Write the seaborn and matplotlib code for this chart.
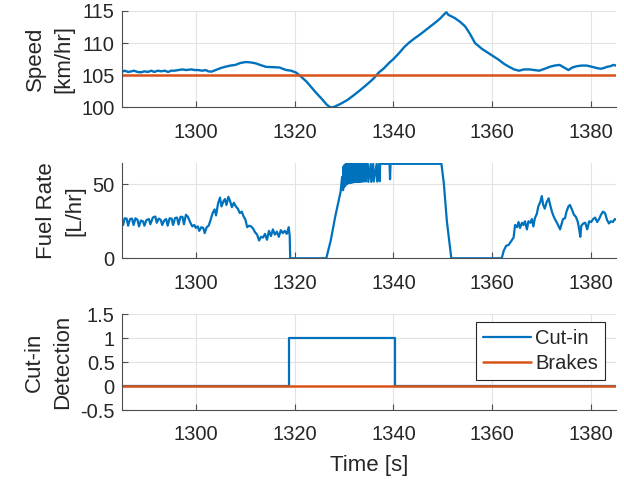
import numpy as np
import pandas as pd
import matplotlib
matplotlib.use("Agg")
import matplotlib.pyplot as plt
import seaborn as sns

# Speed trace [km/hr]
speed_t = [1285.0, 1285.6, 1286.3, 1287.0, 1287.5, 1288.2, 1288.9, 1289.6, 1290.3, 1291.0,
           1291.6, 1292.3, 1293.0, 1293.7, 1294.4, 1295.0, 1295.7, 1296.5, 1297.3, 1298.0,
           1299.1, 1299.8, 1300.5, 1301.3, 1302.0, 1302.5, 1303.2, 1304.0, 1305.0, 1305.9,
           1307.0, 1308.0, 1309.0, 1310.1, 1311.0, 1312.1, 1313.0, 1314.2, 1315.5, 1316.9,
           1317.6, 1318.3, 1319.3, 1320.3, 1321.4, 1322.4, 1323.4, 1324.4, 1325.5, 1326.5,
           1327.2, 1327.8, 1329.2, 1330.6, 1332.0, 1333.3, 1334.7, 1336.0, 1337.0, 1338.1,
           1339.1, 1340.1, 1341.2, 1342.2, 1343.2, 1344.2, 1345.3, 1346.3, 1347.3, 1348.3,
           1349.4, 1350.4, 1350.7, 1351.1, 1352.4, 1353.5, 1354.5, 1355.5, 1356.5, 1357.9,
           1359.3, 1360.3, 1361.3, 1362.3, 1363.4, 1364.4, 1365.4, 1366.4, 1367.5, 1368.5,
           1369.5, 1370.6, 1371.6, 1372.6, 1373.6, 1374.5, 1375.4, 1376.2, 1377.1, 1378.1,
           1379.1, 1380.2, 1381.2, 1381.9, 1382.5, 1383.2, 1383.9, 1384.5, 1385.0]
speed_v = [105.5, 105.7, 105.5, 105.6, 105.7, 105.5, 105.45, 105.6, 105.5, 105.7,
           105.5, 105.7, 105.6, 105.7, 105.5, 105.7, 105.7, 105.8, 105.9, 105.8,
           105.9, 105.8, 105.8, 105.7, 105.8, 105.6, 105.55, 105.8, 106.1, 106.3,
           106.5, 106.6, 106.9, 107.05, 107.0, 106.85, 106.6, 106.3, 106.25, 106.2,
           106.0, 105.8, 105.7, 105.4, 104.7, 104.0, 103.1, 102.2, 101.3, 100.4,
           100.0, 100.0, 100.5, 101.1, 101.9, 102.7, 103.6, 104.5, 105.4, 106.1,
           106.9, 107.6, 108.5, 109.4, 110.1, 110.7, 111.3, 111.9, 112.5, 113.1,
           113.8, 114.6, 114.8, 114.4, 113.9, 113.3, 112.6, 111.4, 110.0, 109.1,
           108.4, 107.9, 107.4, 106.8, 106.3, 105.9, 105.7, 105.9, 105.9, 105.8,
           105.7, 106.0, 106.3, 106.5, 106.6, 106.2, 105.8, 106.2, 106.4, 106.5,
           106.5, 106.3, 106.1, 106.0, 106.1, 106.3, 106.4, 106.6, 106.5]
speed_ref_t = [1285.0, 1385.0]
speed_ref_v = [105.0, 105.0]

# Fuel rate trace [L/hr]
fuel_t = [1285.0, 1285.3, 1285.6, 1286.0, 1286.3, 1286.7, 1287.1, 1287.4, 1287.8, 1288.2,
          1288.5, 1288.9, 1289.3, 1289.6, 1290.0, 1290.5, 1290.8, 1291.3, 1291.8, 1292.1,
          1292.5, 1292.9, 1293.2, 1293.6, 1294.0, 1294.3, 1294.7, 1295.1, 1295.4, 1295.8,
          1296.2, 1296.5, 1296.9, 1297.3, 1297.6, 1298.0, 1298.4, 1298.9, 1299.3, 1299.7,
          1300.0, 1300.4, 1300.7, 1301.1, 1301.5, 1301.8, 1302.2, 1302.6, 1303.0, 1303.4,
          1303.8, 1304.1, 1304.5, 1304.9, 1305.2, 1305.6, 1305.9, 1306.2, 1306.6, 1306.9,
          1307.3, 1307.7, 1308.1, 1308.5, 1308.9, 1309.3, 1309.7, 1310.0, 1310.4, 1310.8,
          1311.2, 1311.6, 1312.0, 1312.4, 1312.8, 1313.2, 1313.6, 1314.0, 1314.4, 1314.8,
          1315.2, 1315.6, 1316.0, 1316.4, 1316.8, 1317.2, 1317.6, 1318.0, 1318.4, 1318.8,
          1319.0, 1319.1, 1326.4, 1327.3, 1328.2, 1329.3, 1329.6,
          1329.8, 1329.9, 1330.0, 1330.1, 1330.2, 1330.3, 1330.4, 1330.5, 1330.6, 1330.7,
          1330.8, 1330.9, 1331.0, 1331.1, 1331.2, 1331.3, 1331.4, 1331.5, 1331.6, 1331.7,
          1331.8, 1331.9, 1332.0, 1332.1, 1332.2, 1332.3, 1332.4, 1332.5, 1332.6, 1332.7,
          1332.8, 1332.9, 1333.0, 1333.1, 1333.2, 1333.3, 1333.4, 1333.5, 1333.6, 1333.7,
          1333.8, 1333.9, 1334.0, 1334.1, 1334.2, 1334.3, 1334.4, 1334.5,
          1334.8, 1334.9, 1335.4, 1335.5, 1335.9, 1336.0, 1336.6, 1336.7,
          1337.1, 1337.2, 1337.3, 1339.2, 1339.3, 1339.4, 1349.7, 1350.2, 1350.8, 1351.7,
          1361.9, 1362.3, 1362.8, 1363.3, 1363.8, 1364.3, 1364.6, 1365.0, 1365.3, 1365.6,
          1366.0, 1366.3, 1366.6, 1367.0, 1367.3, 1367.7, 1368.0, 1368.3, 1368.6, 1369.0,
          1369.3, 1369.7, 1370.0, 1370.3, 1370.6, 1371.0, 1371.4, 1371.7, 1372.1, 1372.5,
          1372.9, 1373.3, 1373.7, 1374.0, 1374.3, 1374.7, 1375.0, 1375.4, 1375.7, 1376.1,
          1376.5, 1376.9, 1377.3, 1377.6, 1377.8, 1378.0, 1378.4, 1378.8, 1379.2, 1379.6,
          1380.0, 1380.4, 1380.8, 1381.2, 1381.6, 1382.0, 1382.4, 1382.8, 1383.2, 1383.6,
          1384.0, 1384.4, 1384.8, 1385.2]
fuel_v = [26.5, 22.5, 27.0, 26.8, 22.0, 26.5, 26.8, 22.5, 27.0, 26.0,
          21.5, 25.5, 25.0, 22.0, 25.8, 26.5, 23.0, 27.5, 28.2, 24.0,
          26.8, 26.0, 22.5, 25.5, 26.5, 22.0, 27.0, 26.8, 22.5, 27.2,
          27.5, 22.8, 28.0, 28.0, 23.0, 29.4, 28.0, 24.0, 21.5, 22.5,
          20.5, 21.5, 18.5, 21.0, 20.5, 17.0, 21.0, 22.0, 26.0, 30.5,
          33.0, 29.0, 37.0, 41.0, 35.0, 38.5, 40.0, 36.0, 41.5, 39.0,
          34.5, 37.5, 35.0, 33.5, 30.5, 31.5, 28.0, 26.5, 21.0, 22.0,
          21.5, 20.0, 17.5, 16.0, 12.0, 14.5, 14.0, 16.5, 12.5, 18.5,
          15.0, 19.5, 16.0, 18.0, 14.5, 19.0, 17.0, 18.5, 16.5, 21.0,
          15.0, 0.0, 0.0, 12.0, 28.0, 45.0, 55.0,
          46.0, 62.0, 48.0, 63.0, 49.0, 63.5, 49.8, 63.8, 50.3, 63.8,
          50.6, 63.8, 50.8, 63.8, 51.0, 63.8, 51.1, 63.8, 51.2, 63.8,
          51.3, 63.8, 51.4, 63.8, 51.5, 63.8, 51.5, 63.8, 51.6, 63.8,
          51.7, 63.8, 51.7, 63.8, 51.8, 63.8, 51.8, 63.8, 51.9, 63.8,
          51.9, 63.8, 52.0, 63.8, 52.0, 63.8, 52.0, 63.8,
          63.8, 51.6, 63.8, 51.6, 63.8, 51.8, 63.8, 51.8,
          63.8, 52.0, 63.8, 63.8, 53.4, 63.8, 63.8, 50.0, 25.0, 0.0,
          0.0, 5.0, 8.5, 9.0, 11.5, 14.0, 22.5, 21.0, 24.5, 20.5,
          24.0, 22.5, 25.0, 19.5, 25.0, 24.0, 26.5, 21.5, 27.0, 30.0,
          35.0, 38.0, 42.0, 36.0, 33.5, 38.0, 40.5, 36.0, 31.0, 27.5,
          25.0, 22.5, 19.5, 23.0, 26.5, 27.0, 31.5, 35.0, 36.0, 33.0,
          29.5, 28.0, 24.5, 19.0, 14.5, 22.0, 23.5, 24.0, 19.5, 25.0,
          24.5, 26.5, 27.5, 24.5, 26.5, 29.5, 31.5, 30.5, 26.0, 23.5,
          25.0, 24.5, 26.5, 26.0]

# Cut-in detection and brakes
cutin_t = [1285.0, 1318.8, 1318.8, 1340.3, 1340.3, 1385.0]
cutin_v = [0, 0, 1, 1, 0, 0]
brakes_t = [1285.0, 1385.0]
brakes_v = [0, 0]

x_ticks = [1300, 1320, 1340, 1360, 1380]

BLUE = '#0072BD'
ORANGE = '#D95319'
TXT = '#262626'

sns.set_theme(style="whitegrid")
plt.rcParams['font.family'] = ['Liberation Sans', 'DejaVu Sans']

fig = plt.figure(figsize=(6.24, 4.8), dpi=100)
left, width = 0.195, 0.792
ax1 = fig.add_axes([left, 0.7765, width, 0.2006])
ax2 = fig.add_axes([left, 0.4619, width, 0.1990])
ax3 = fig.add_axes([left, 0.1458, width, 0.2000])

sns.lineplot(x=speed_t, y=speed_v, ax=ax1, color=BLUE, linewidth=1.7, estimator=None, sort=False)
sns.lineplot(x=speed_ref_t, y=speed_ref_v, ax=ax1, color=ORANGE, linewidth=1.8, estimator=None, sort=False)
ax1.set_ylim(100, 115)
ax1.set_yticks([100, 105, 110, 115])
ax1.set_ylabel('Speed\n[km/hr]')

sns.lineplot(x=fuel_t, y=fuel_v, ax=ax2, color=BLUE, linewidth=1.6, estimator=None, sort=False)
ax2.set_ylim(0, 64.5)
ax2.set_yticks([0, 50])
ax2.set_ylabel('Fuel Rate\n[L/hr]')

sns.lineplot(x=cutin_t, y=cutin_v, ax=ax3, color=BLUE, linewidth=1.6, estimator=None, sort=False,
             label='Cut-in')
sns.lineplot(x=brakes_t, y=brakes_v, ax=ax3, color=ORANGE, linewidth=1.8, estimator=None, sort=False,
             label='Brakes')
ax3.set_ylim(-0.5, 1.5)
ax3.set_yticks([-0.5, 0, 0.5, 1, 1.5])
ax3.set_yticklabels(['-0.5', '0', '0.5', '1', '1.5'])
ax3.set_ylabel('Cut-in\nDetection')
ax3.set_xlabel('Time [s]', fontsize=16, color=TXT, labelpad=8)
leg = ax3.legend(loc='upper right', bbox_to_anchor=(0.978, 0.92), fontsize=14.5, frameon=True,
                 fancybox=False, framealpha=1, edgecolor=TXT, borderpad=0.35,
                 handlelength=2.4, handletextpad=0.2, labelspacing=0.3, borderaxespad=0)
leg.get_frame().set_linewidth(0.8)
for t in leg.get_texts():
    t.set_color(TXT)

for ax in (ax1, ax2, ax3):
    ax.set_xlim(1285, 1385)
    ax.set_xticks(x_ticks)
    if ax is not ax3:
        ax.set_xlabel('')
    ax.set_facecolor('white')
    ax.grid(True, color='#e3e3e3', linewidth=0.8)
    for side in ('top', 'right'):
        ax.spines[side].set_visible(False)
    for side in ('left', 'bottom'):
        ax.spines[side].set_visible(True)
        ax.spines[side].set_color('#4d4d4d')
        ax.spines[side].set_linewidth(0.8)
    ax.tick_params(axis='both', direction='in', length=4, width=0.8, color='#4d4d4d',
                   labelsize=14.5, labelcolor=TXT)
    ax.tick_params(axis='x', pad=11)
    ax.tick_params(axis='y', pad=5, left=True)
    ax.tick_params(axis='x', bottom=True)
    ax.yaxis.label.set_size(16)
    ax.yaxis.label.set_color(TXT)
    ax.yaxis.label.set_linespacing(1.45)
    ax.yaxis.labelpad = 5

fig.savefig('out.png', dpi=100, facecolor='white')
